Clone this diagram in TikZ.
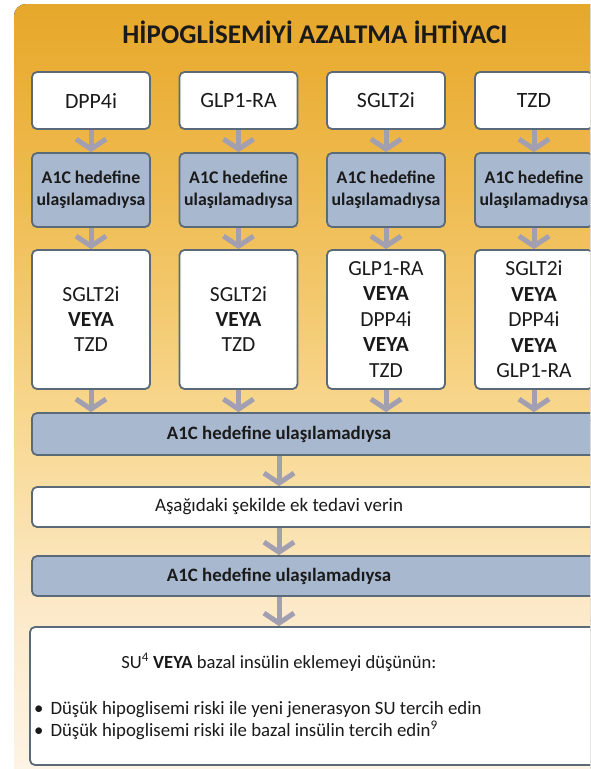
\documentclass[tikz,border=0pt]{standalone}
\usepackage{fontspec}
\setmainfont{Carlito}
\usetikzlibrary{arrows.meta}
\definecolor{bgA}{HTML}{E6A82B}
\definecolor{bgB}{HTML}{EAAE36}
\definecolor{bgC}{HTML}{F1C25F}
\definecolor{bgD}{HTML}{F8D890}
\definecolor{bgE}{HTML}{FCEACB}
\definecolor{bgF}{HTML}{FEF6EB}
\definecolor{boxline}{HTML}{5B6A78}
\definecolor{a1cfill}{HTML}{A8B8CF}
\definecolor{arrcol}{HTML}{A29FB0}
\definecolor{txt}{HTML}{1A1A1A}
\tikzset{
  basebox/.style={draw=boxline, line width=1.8pt, rounded corners=5pt, inner sep=0pt, text=txt, align=center},
  whitebox/.style={basebox, fill=white},
  a1cbox/.style={basebox, fill=a1cfill},
  colbox/.style={minimum width=118pt},
  arr/.style={draw=arrcol, line width=5pt, -{Straight Barb[length=10pt,width=30pt]}},
  lbl/.style={text=txt, inner sep=0pt}
}
\begin{document}
\begin{tikzpicture}[x=1pt,y=-1pt]
\useasboundingbox (0,0) rectangle (590,769);
\clip (0,0) rectangle (590,769);
\fill[white] (0,0) rectangle (590,769);
\begin{scope}
\clip[rounded corners=12pt] (14,4) rectangle (640,800);
\fill[top color=bgA,bottom color=bgB] (14,4) rectangle (640,70.5);
\fill[top color=bgB,bottom color=bgC] (14,70) rectangle (640,250.5);
\fill[top color=bgC,bottom color=bgD] (14,250) rectangle (640,420.5);
\fill[top color=bgD,bottom color=bgE] (14,420) rectangle (640,620.5);
\fill[top color=bgE,bottom color=bgF] (14,620) rectangle (640,800);
\end{scope}

\node[lbl, anchor=base, font=\bfseries\fontsize{27}{30}\selectfont] (title) at (315,43.5) {HİPOGLİSEMİYİ AZALTMA İHTİYACI};

% top row
\foreach \n/\x/\t in {1/91/DPP4i, 2/238.5/GLP1-RA, 3/386/SGLT2i, 4/534/TZD}{
  \node[whitebox, colbox, minimum height=57pt, font=\fontsize{21.8}{25}\selectfont] (d\n) at (\x,100.5) {\t};
  \node[a1cbox, colbox, minimum height=74pt, font=\bfseries\fontsize{17.8}{22}\selectfont] (a\n) at (\x,190) {A1C hedefine\\ulaşılamadıysa};
  \draw[arr] (d\n) -- (a\n);
}
\node[whitebox, colbox, minimum height=139pt, font=\fontsize{21.5}{25}\selectfont] (o1) at (91,319.5) {SGLT2i\\\textbf{VEYA}\\TZD};
\node[whitebox, colbox, minimum height=139pt, font=\fontsize{21.5}{25}\selectfont] (o2) at (238.5,319.5) {SGLT2i\\\textbf{VEYA}\\TZD};
\node[whitebox, colbox, minimum height=139pt, font=\fontsize{21.5}{25.5}\selectfont] (o3) at (386,319.5) {GLP1-RA\\\textbf{VEYA}\\DPP4i\\\textbf{VEYA}\\TZD};
\node[whitebox, colbox, minimum height=139pt, font=\fontsize{21.5}{25.5}\selectfont] (o4) at (534,319.5) {SGLT2i\\\textbf{VEYA}\\DPP4i\\\textbf{VEYA}\\GLP1-RA};
\foreach \n in {1,2,3,4}{\draw[arr] (a\n) -- (o\n);}

% wide bars
\node[a1cbox, minimum width=578pt, minimum height=42pt] (w1) at (321,434) {};
\node[lbl, font=\bfseries\fontsize{18.9}{20}\selectfont] (w1t) at (279,434) {A1C hedefine ulaşılamadıysa};
\foreach \n in {1,2,3,4}{\draw[arr] (o\n) -- (o\n |- w1.north);}

\node[whitebox, minimum width=578pt, minimum height=40pt] (w2) at (321,507) {};
\node[lbl, font=\fontsize{19}{20}\selectfont] (w2t) at (279,507) {Aşağıdaki şekilde ek tedavi verin};
\draw[arr] (w1.south -| w1t) -- (w2.north -| w1t);

\node[a1cbox, minimum width=578pt, minimum height=40pt] (w3) at (321,576) {};
\node[lbl, font=\bfseries\fontsize{18.9}{20}\selectfont] (w3t) at (279,576) {A1C hedefine ulaşılamadıysa};
\draw[arr] (w2.south -| w1t) -- (w3.north -| w1t);

\node[whitebox, minimum width=580pt, minimum height=138pt] (w4) at (320,696) {};
\node[lbl, anchor=base, font=\fontsize{18.6}{20}\selectfont] (w4t) at (279,668) {SU\textsuperscript{4} \textbf{VEYA} bazal insülin eklemeyi düşünün:};
\node[lbl, anchor=base west, font=\fontsize{18.8}{20}\selectfont] (w4b) at (34,714) {•\hspace{7pt}Düşük hipoglisemi riski ile yeni jenerasyon SU tercih edin};
\node[lbl, anchor=base west, font=\fontsize{18.8}{20}\selectfont] (w4c) at (34,736) {•\hspace{7pt}Düşük hipoglisemi riski ile bazal insülin tercih edin\textsuperscript{9}};
\draw[arr] (w3.south -| w1t) -- (w4.north -| w1t);
\end{tikzpicture}
\end{document}
